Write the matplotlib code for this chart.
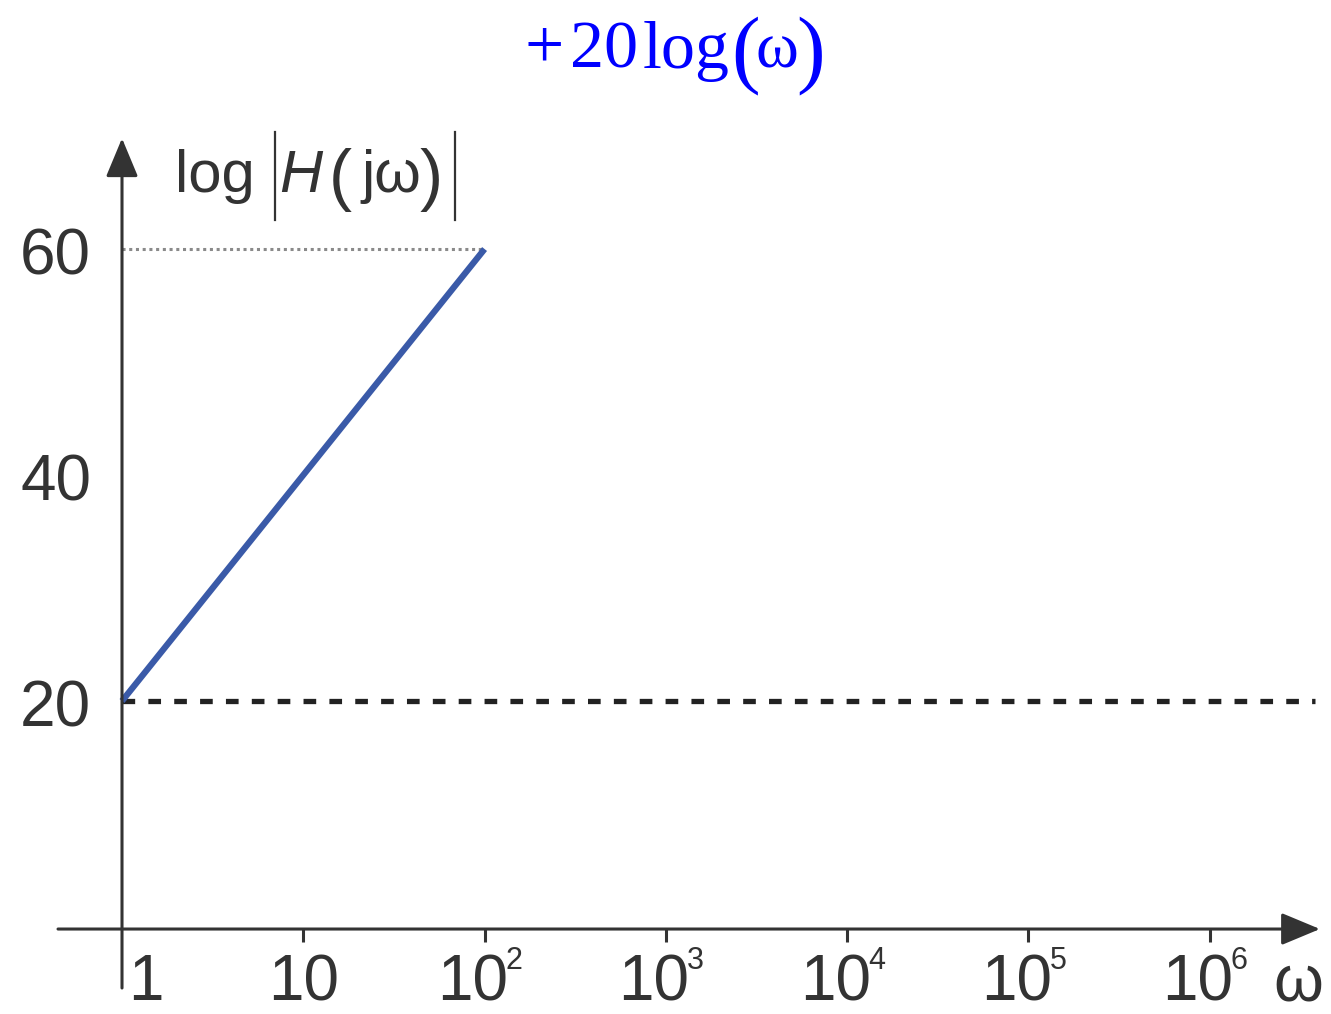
import numpy as np
import matplotlib
matplotlib.use("Agg")
import matplotlib.pyplot as plt

# data
omega_ticks = [1, 10, 1e2, 1e3, 1e4, 1e5, 1e6]
omega_base = ['1', '10', '10', '10', '10', '10', '10']
omega_exp = ['', '', '2', '3', '4', '5', '6']
mag_ticks = [20, 40, 60]
mag_labels = ['20', '40', '60']
slope_omega = [1, 100]
slope_mag = [20, 60]
flat_mag = 20
flat_omega_end = 10 ** 6.58
ref_mag = 60

W, H = 1331, 1014
fig = plt.figure(figsize=(W / 100, H / 100), dpi=100)
ax = fig.add_axes([0, 0, 1, 1])
ax.set_xscale('log')
ax.set_xlim(10 ** -0.673, 10 ** 6.669)
ax.set_ylim(-7.70, 82.04)
ax.axis('off')

axis_col = '#333333'
txt_col = '#333333'
sans = 'Liberation Sans'
PT = 0.72  # points per pixel at dpi 100

# axes with arrows
ax.annotate('', xy=(10 ** 6.608, -0.18), xytext=(10 ** -0.353, -0.18),
            arrowprops=dict(arrowstyle='-|>,head_length=2.4,head_width=1.0', mutation_scale=10,
                            lw=2.2, color=axis_col, shrinkA=0, shrinkB=0))
ax.annotate('', xy=(1, 69.8), xytext=(1, -5.4),
            arrowprops=dict(arrowstyle='-|>,head_length=2.4,head_width=1.0', mutation_scale=10,
                            lw=2.2, color=axis_col, shrinkA=0, shrinkB=0))

# decade ticks
for w in omega_ticks[1:]:
    ax.plot([w, w], [-0.18, -1.3], color=axis_col, lw=2.2, solid_capstyle='butt')

# x tick labels
base_dy = -71
for w, base, ex in zip(omega_ticks, omega_base, omega_exp):
    if w == 1:
        ax.annotate(base, xy=(w, -0.18), xytext=(6 * PT, base_dy * PT), textcoords='offset points',
                    ha='left', va='baseline', fontsize=46, color=txt_col, family=sans)
    elif ex == '':
        ax.annotate(base, xy=(w, -0.18), xytext=(0, base_dy * PT), textcoords='offset points',
                    ha='center', va='baseline', fontsize=46, color=txt_col, family=sans)
    else:
        ax.annotate(base, xy=(w, -0.18), xytext=(-12 * PT, base_dy * PT), textcoords='offset points',
                    ha='center', va='baseline', fontsize=46, color=txt_col, family=sans)
        ax.annotate(ex, xy=(w, -0.18), xytext=(21 * PT, (base_dy + 31) * PT), textcoords='offset points',
                    ha='left', va='baseline', fontsize=22, color=txt_col, family=sans)
ax.annotate('ω', xy=(1e6, -0.18), xytext=(64 * PT, base_dy * PT), textcoords='offset points',
            ha='left', va='baseline', fontsize=46, color=txt_col, family=sans)

# y tick labels
for v, lab in zip(mag_ticks, mag_labels):
    ax.annotate(lab, xy=(1, v), xytext=(-31 * PT, -25 * PT), textcoords='offset points',
                ha='right', va='baseline', fontsize=46, color=txt_col, family=sans)

# lines
ax.plot([1, slope_omega[1]], [ref_mag, ref_mag], color='#8a8a8a', lw=2.2,
        linestyle=(0, (1, 1.2)))
ax.plot([1, flat_omega_end], [flat_mag, flat_mag], color='#222222', lw=3.8,
        linestyle=(0, (2.4, 2.5)))
ax.plot(slope_omega, slope_mag, color='#3a5aa8', lw=4.5, solid_capstyle='butt')

# y-axis label: log|H(jω)|
def fx(px):
    return px / W
def fy(py):
    return 1 - py / H
fs = 43
fig.text(fx(175), fy(192), 'log', fontsize=fs, color=txt_col, family=sans,
         ha='left', va='baseline')
fig.text(fx(279), fy(192), 'H', fontsize=fs, color=txt_col, family=sans,
         style='italic', ha='left', va='baseline')
fig.text(fx(329), fy(198), '(', fontsize=50, color=txt_col, family=sans,
         ha='left', va='baseline')
fig.text(fx(361), fy(192), 'jω', fontsize=fs, color=txt_col, family=sans,
         ha='left', va='baseline')
fig.text(fx(420), fy(198), ')', fontsize=50, color=txt_col, family=sans,
         ha='left', va='baseline')
for bx in (275, 455):
    fig.add_artist(plt.Line2D([fx(bx), fx(bx)], [fy(132), fy(220)], color=txt_col, lw=1.6))

# title
tc = '#0000ff'
serif = 'Liberation Serif'
fig.text(fx(525), fy(68), '+', fontsize=50, color=tc, family=serif, ha='left', va='baseline')
fig.text(fx(570), fy(68), '20', fontsize=49, color=tc, family=serif, ha='left', va='baseline')
fig.text(fx(643), fy(68), 'log', fontsize=49, color=tc, family=serif, ha='left', va='baseline')
fig.text(fx(731), fy(76), '(', fontsize=62, color=tc, family=serif, ha='left', va='baseline')
fig.text(fx(756), fy(68), 'ω', fontsize=47, color=tc, family=serif, ha='left', va='baseline')
fig.text(fx(796), fy(76), ')', fontsize=62, color=tc, family=serif, ha='left', va='baseline')

fig.savefig('out.png', dpi=100)
